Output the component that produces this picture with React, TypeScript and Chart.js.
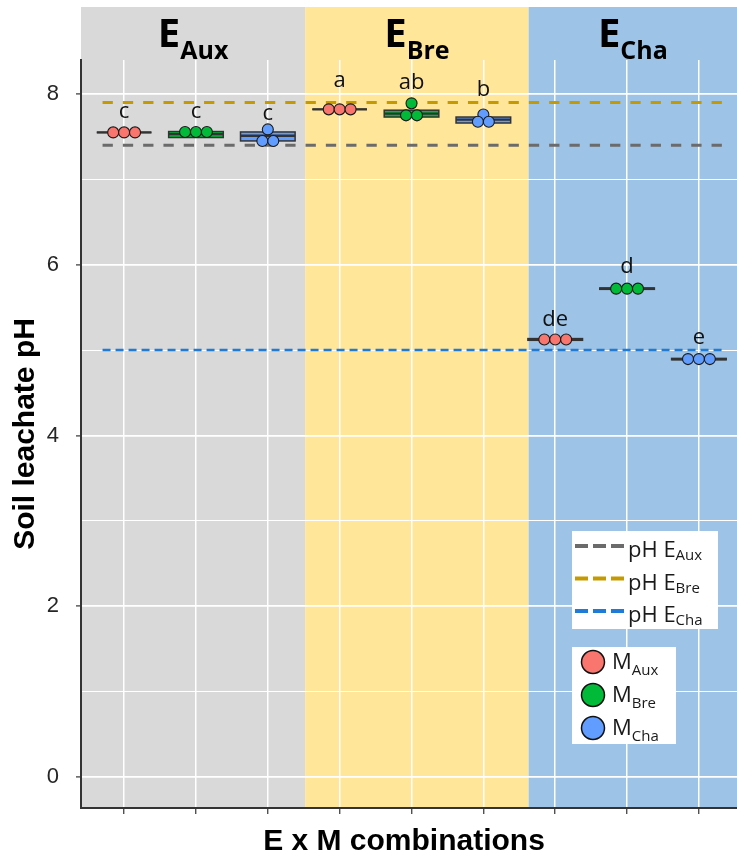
import React, { useEffect, useRef } from 'react';
import { Chart, registerables } from 'chart.js';

Chart.register(...registerables);

// ---------------- data ----------------
const environments = ['Aux', 'Bre', 'Cha'];
const microbiomes = ['Aux', 'Bre', 'Cha'];
const categories = [
  'EAux-MAux', 'EAux-MBre', 'EAux-MCha',
  'EBre-MAux', 'EBre-MBre', 'EBre-MCha',
  'ECha-MAux', 'ECha-MBre', 'ECha-MCha',
];
const xMin = 0.4;
const xMax = 9.53;
const yMin = -0.363;
const yMax = 8.398;
const yGridValues = [0, 1, 2, 3, 4, 5, 6, 7, 8];
const yTickLabels = ['0', '', '2', '', '4', '', '6', '', '8'];

const bandStart = [0.4, 3.52, 6.63];
const bandEnd = [3.52, 6.63, 9.53];

const phLevels = [7.4, 7.9, 5.0];
const phLineFrom = 0.7;
const phLineTo = 9.35;

const pointValues = [
  [7.55, 7.55, 7.55],
  [7.555, 7.555, 7.555],
  [7.585, 7.45, 7.45],
  [7.82, 7.82, 7.82],
  [7.89, 7.75, 7.75],
  [7.76, 7.675, 7.675],
  [5.125, 5.125, 5.125],
  [5.72, 5.72, 5.72],
  [4.895, 4.895, 4.895],
];
const boxLower = [7.55, 7.49, 7.45, 7.82, 7.73, 7.66, 5.115, 5.712, 4.887];
const boxMedian = [7.55, 7.53, 7.51, 7.82, 7.77, 7.70, 5.125, 5.72, 4.895];
const boxUpper = [7.55, 7.56, 7.555, 7.82, 7.81, 7.73, 5.135, 5.728, 4.903];

const letters = ['c', 'c', 'c', 'a', 'ab', 'b', 'de', 'd', 'e'];
const letterY = [7.715, 7.715, 7.695, 8.08, 8.055, 7.98, 5.283, 5.9, 5.068];

// ---------------- styles ----------------
const envColors = ['#D9D9D9', '#FFE699', '#9DC3E6'];
const phColors = ['#6B6B6B', '#C59A00', '#1F7BD6'];
const microColors = ['#F8766D', '#00BA38', '#619CFF'];
const BOX_WIDTH = 0.76;
const HEADER_TOP = 7;
const SANS = '"Liberation Sans", Arial, sans-serif';
const LABEL = '"Open Sans", "Noto Sans", sans-serif';

function dodge(vals: number[]): number[] {
  const idx = vals.map((_, i) => i).sort((a, b) => vals[b] - vals[a]);
  const rows: number[][] = [];
  idx.forEach((i) => {
    const last = rows[rows.length - 1];
    if (last && Math.abs(vals[last[0]] - vals[i]) < 0.04) last.push(i);
    else rows.push([i]);
  });
  const off = new Array(vals.length).fill(0);
  rows.forEach((r) => r.forEach((i, k) => { off[i] = (k - (r.length - 1) / 2) * 0.152; }));
  return off;
}

function drawSub(
  ctx: CanvasRenderingContext2D, x: number, y: number, main: string, sub: string,
  mainFont: string, subFont: string, subDy: number, align: 'left' | 'center', color: string,
) {
  ctx.save();
  ctx.fillStyle = color;
  ctx.textBaseline = 'alphabetic';
  ctx.textAlign = 'left';
  ctx.font = mainFont;
  const w1 = ctx.measureText(main).width;
  ctx.font = subFont;
  const w2 = ctx.measureText(sub).width;
  const start = align === 'center' ? x - (w1 + w2) / 2 : x;
  ctx.font = mainFont;
  ctx.fillText(main, start, y);
  ctx.font = subFont;
  ctx.fillText(sub, start + w1, y + subDy);
  ctx.restore();
}

let boxesDrawn = false;

function drawBoxes(chart: any) {
  const { ctx, scales: { x, y } } = chart;
  ctx.save();
  categories.forEach((_, i) => {
    const cx = x.getPixelForValue(i + 1);
    const hw = x.getPixelForValue(i + 1 + BOX_WIDTH / 2) - cx;
    const top = y.getPixelForValue(boxUpper[i]);
    const bot = y.getPixelForValue(boxLower[i]);
    ctx.fillStyle = microColors[i % 3];
    ctx.fillRect(cx - hw, top, 2 * hw, bot - top);
    ctx.strokeStyle = '#333333';
    ctx.lineWidth = 1.5;
    ctx.strokeRect(cx - hw, top, 2 * hw, bot - top);
    const my = y.getPixelForValue(boxMedian[i]);
    ctx.lineWidth = 2.4;
    ctx.beginPath();
    ctx.moveTo(cx - hw, my);
    ctx.lineTo(cx + hw, my);
    ctx.stroke();
  });
  ctx.restore();
}

const customPlugin = {
  id: 'custom',
  beforeDraw(chart: any) {
    const { ctx, chartArea, scales: { x } } = chart;
    ctx.save();
    bandStart.forEach((a, i) => {
      const x0 = Math.max(chartArea.left, x.getPixelForValue(a));
      const x1 = Math.min(chartArea.right, x.getPixelForValue(bandEnd[i]));
      ctx.fillStyle = envColors[i];
      ctx.fillRect(x0, HEADER_TOP, x1 - x0, chartArea.bottom - HEADER_TOP);
    });
    ctx.restore();
    environments.forEach((env, i) => {
      const cx = x.getPixelForValue((bandStart[i] + bandEnd[i]) / 2);
      drawSub(ctx, cx, 47, 'E', env, `bold 40px ${LABEL}`, `bold 25px ${LABEL}`, 12, 'center', '#000');
    });
  },
  beforeDatasetsDraw() {
    boxesDrawn = false;
  },
  beforeDatasetDraw(chart: any, args: any) {
    if (args.index >= phLevels.length && !boxesDrawn) {
      boxesDrawn = true;
      drawBoxes(chart);
    }
  },
  afterDatasetsDraw(chart: any) {
    const { ctx, scales: { x, y } } = chart;
    ctx.save();
    ctx.fillStyle = '#111';
    ctx.font = `22px ${LABEL}`;
    ctx.textAlign = 'center';
    ctx.textBaseline = 'alphabetic';
    letters.forEach((t, i) => {
      ctx.fillText(t, x.getPixelForValue(i + 1), y.getPixelForValue(letterY[i]));
    });
    ctx.restore();
  },
  afterDraw(chart: any) {
    const { ctx, chartArea } = chart;
    ctx.save();
    // axis titles
    ctx.fillStyle = '#000';
    ctx.font = `bold 30px ${SANS}`;
    ctx.textAlign = 'center';
    ctx.textBaseline = 'alphabetic';
    ctx.fillText('E x M combinations', (chartArea.left + chartArea.right) / 2 - 5, 850);
    ctx.save();
    ctx.translate(34, (chartArea.top + chartArea.bottom) / 2);
    ctx.rotate(-Math.PI / 2);
    ctx.fillText('Soil leachate pH', 0, 0);
    ctx.restore();

    // legend 1: pH lines
    ctx.fillStyle = '#FFFFFF';
    ctx.fillRect(572, 531, 146, 98);
    environments.forEach((env, i) => {
      const cy = 546 + i * 32.5;
      ctx.save();
      ctx.strokeStyle = phColors[i];
      ctx.lineWidth = 4;
      ctx.setLineDash([13, 5]);
      ctx.beginPath();
      ctx.moveTo(575, cy);
      ctx.lineTo(624, cy);
      ctx.stroke();
      ctx.restore();
      drawSub(ctx, 628, cy + 11, 'pH E', env, `22px ${LABEL}`, `15px ${LABEL}`, 3, 'left', '#1a1a1a');
    });

    // legend 2: microbiome points
    ctx.fillStyle = '#FFFFFF';
    ctx.fillRect(572, 647, 104, 97);
    microbiomes.forEach((m, i) => {
      const cy = 662 + i * 33;
      ctx.beginPath();
      ctx.arc(593, cy, 11.5, 0, Math.PI * 2);
      ctx.fillStyle = microColors[i];
      ctx.fill();
      ctx.lineWidth = 1.5;
      ctx.strokeStyle = '#111';
      ctx.stroke();
      drawSub(ctx, 612, cy + 7, 'M', m, `22px ${LABEL}`, `15px ${LABEL}`, 6, 'left', '#1a1a1a');
    });
    ctx.restore();
  },
};

export default function App() {
  const ref = useRef<HTMLCanvasElement | null>(null);

  useEffect(() => {
    document.body.style.margin = '0';
    const canvas = ref.current;
    if (!canvas) return;

    const phDatasets = phLevels.map((lvl, i) => ({
      label: `pH E${environments[i]}`,
      data: [{ x: phLineFrom, y: lvl }, { x: phLineTo, y: lvl }],
      showLine: true,
      borderColor: phColors[i],
      backgroundColor: phColors[i],
      borderWidth: i === 2 ? 2.5 : 3,
      borderDash: i === 2 ? [8, 5] : [10.3, 10],
      pointRadius: 0,
      order: 5,
    }));

    const pointDatasets = microbiomes.map((m, mi) => {
      const data: { x: number; y: number }[] = [];
      categories.forEach((_, ci) => {
        if (ci % 3 !== mi) return;
        const vals = pointValues[ci];
        const off = dodge(vals);
        vals.forEach((v, k) => data.push({ x: ci + 1 + off[k], y: v }));
      });
      return {
        label: `M${m}`,
        data,
        showLine: false,
        pointRadius: 5.5,
        pointBorderWidth: 1.1,
        pointBackgroundColor: microColors[mi],
        pointBorderColor: '#1a1a1a',
        order: 1,
      };
    });

    const chart = new Chart(canvas, {
      type: 'scatter',
      data: { datasets: [...phDatasets, ...pointDatasets] as any },
      options: {
        animation: false,
        responsive: false,
        events: [],
        layout: { autoPadding: false, padding: { top: 60, left: 0, right: 0, bottom: 0 } },
        plugins: { legend: { display: false }, tooltip: { enabled: false } },
        scales: {
          x: {
            type: 'linear',
            min: xMin,
            max: xMax,
            afterBuildTicks: (s: any) => { s.ticks = categories.map((_, i) => ({ value: i + 1 })); },
            afterFit: (s: any) => { s.height = 51; },
            grid: { color: '#FFFFFF', lineWidth: 1.5, drawTicks: true, tickLength: 6, tickColor: '#333333', tickWidth: 1.2 },
            border: { display: true, color: '#333333', width: 2 },
            ticks: { display: false },
          },
          y: {
            type: 'linear',
            min: yMin,
            max: yMax,
            afterBuildTicks: (s: any) => { s.ticks = yGridValues.map((v) => ({ value: v })); },
            afterFit: (s: any) => { s.width = 81; },
            grid: {
              color: '#FFFFFF',
              lineWidth: (c: any) => (c.tick && c.tick.value % 2 === 0 ? 1.8 : 1),
              drawTicks: true,
              tickLength: 5,
              tickWidth: 1.2,
              tickColor: (c: any) => (c.tick && c.tick.value % 2 === 0 ? '#333333' : 'rgba(0,0,0,0)'),
            },
            border: { display: true, color: '#333333', width: 2 },
            ticks: {
              callback: (_v: any, i: number) => yTickLabels[i],
              font: { family: SANS, size: 22 },
              color: '#262626',
              padding: 17,
            },
          },
        },
      },
      plugins: [customPlugin],
    });
    return () => chart.destroy();
  }, []);

  return (
    <div style={{ width: 737, height: 859 }}>
      <canvas ref={ref} width={737} height={859} style={{ display: 'block' }} />
    </div>
  );
}
